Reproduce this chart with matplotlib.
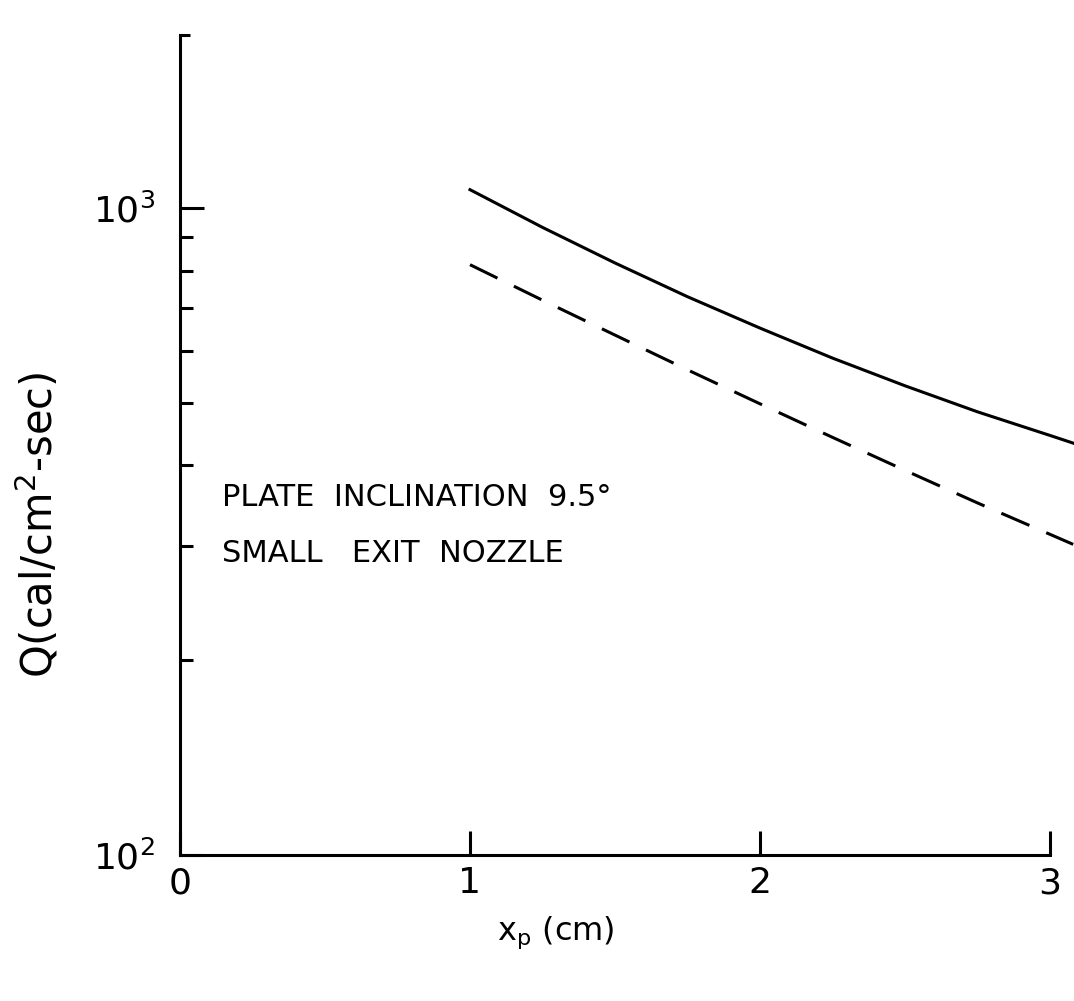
import numpy as np
import matplotlib.pyplot as plt

# values
x_vals = [1.0, 1.25, 1.5, 1.75, 2.0, 2.25, 2.5, 2.75, 3.0, 3.08]
q_solid = [1067, 933, 822, 729, 652, 586, 531, 484, 445, 433]
q_dashed = [817, 720, 636, 562, 498, 442, 393, 350, 313, 302]

x_ticks = [0, 1, 2, 3]
y_major = [100, 1000]
y_minor = [200, 300, 400, 500, 600, 700, 800, 900]

plt.rcParams['font.family'] = ['DejaVu Sans']

fig = plt.figure(figsize=(10.74, 10.01), dpi=100)
ax = fig.add_axes([180/1074, 1-855/1001, 870/1074, 820/1001])

ax.plot(x_vals, q_solid, color='black', lw=2.2, clip_on=False)
ax.plot(x_vals, q_dashed, color='black', lw=2.2, clip_on=False,
        dashes=(10, 6))

ax.set_yscale('log')
ax.set_xlim(0, 3)
ax.set_ylim(100, 1850)

ax.spines['top'].set_visible(False)
ax.spines['right'].set_visible(False)
for s in ['left', 'bottom']:
    ax.spines[s].set_linewidth(2.2)

ax.set_xticks(x_ticks)
ax.set_xticklabels([str(v) for v in x_ticks])
ax.set_yticks(y_major)
ax.set_yticks(y_minor, minor=True)
ax.set_yticklabels([r'$\mathregular{10^2}$', r'$\mathregular{10^3}$'])
ax.yaxis.set_minor_formatter(plt.NullFormatter())

ax.tick_params(axis='x', direction='in', length=17, width=2.2, pad=8,
               labelsize=26)
ax.tick_params(axis='y', which='major', direction='in', length=17, width=2.2,
               pad=18, labelsize=26)
ax.tick_params(axis='y', which='minor', direction='in', length=9, width=2.2)

# little hook at the top of the y axis
ax.plot([0, 0.012], [1, 1], transform=ax.transAxes, color='black',
        lw=2.2, clip_on=False, solid_capstyle='butt')

ax.text(0.048, 1-(497-35)/820, 'PLATE  INCLINATION  9.5°',
        transform=ax.transAxes, fontsize=22, va='center', ha='left')
ax.text(0.048, 1-(554-35)/820, 'SMALL   EXIT  NOZZLE',
        transform=ax.transAxes, fontsize=22, va='center', ha='left')

fig.text(38/1074, 1-525/1001, r'Q(cal/cm$^2$-sec)', rotation=90,
         fontsize=30, ha='center', va='center')
fig.text(556/1074, 1-933/1001, r'x$_\mathregular{p}$ (cm)', fontsize=23,
         ha='center', va='center')

fig.savefig('out.png', dpi=100)
